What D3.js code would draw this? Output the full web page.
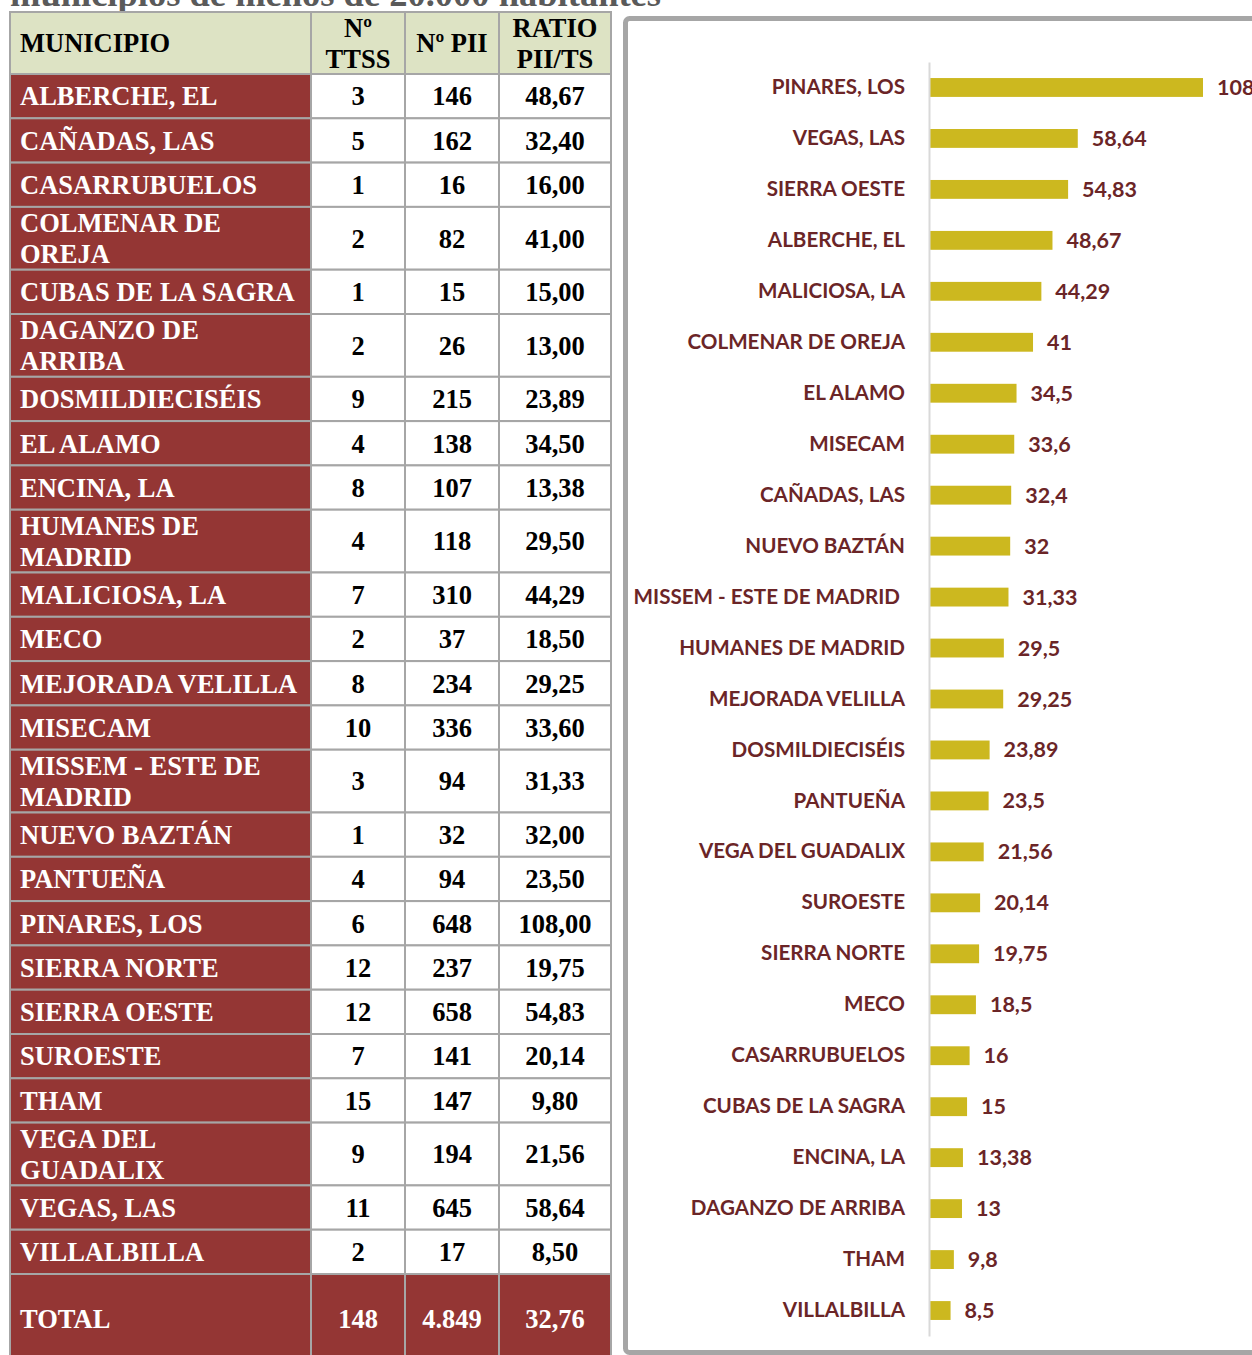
<!DOCTYPE html>
<html>
<head>
<meta charset="utf-8">
<script src="https://cdn.jsdelivr.net/npm/d3@7"></script>
<style>
body { margin: 0; background: #fff; }
svg { display: block; }
.cell { font-family: "Liberation Serif", "Times New Roman", serif; font-weight: bold; font-size: 26.5px; }
.bar-label { font-family: Lato, sans-serif; font-weight: bold; font-size: 20.6px; fill: #6b2527; white-space: pre; }
.value-label { font-family: Lato, sans-serif; font-weight: bold; font-size: 21.5px; fill: #6b2527; }
</style>
</head>
<body>
<svg id="chart" width="1252" height="1355"></svg>
<script>
// table data
const headers = [["MUNICIPIO"], ["Nº", "TTSS"], ["Nº PII"], ["RATIO", "PII/TS"]];
const municipios = ["ALBERCHE, EL", "CAÑADAS, LAS", "CASARRUBUELOS", "COLMENAR DE OREJA",
    "CUBAS DE LA SAGRA", "DAGANZO DE ARRIBA", "DOSMILDIECISÉIS", "EL ALAMO", "ENCINA, LA",
    "HUMANES DE MADRID", "MALICIOSA, LA", "MECO", "MEJORADA VELILLA", "MISECAM",
    "MISSEM - ESTE DE MADRID", "NUEVO BAZTÁN", "PANTUEÑA", "PINARES, LOS", "SIERRA NORTE",
    "SIERRA OESTE", "SUROESTE", "THAM", "VEGA DEL GUADALIX", "VEGAS, LAS", "VILLALBILLA"];
const ttss = [3, 5, 1, 2, 1, 2, 9, 4, 8, 4, 7, 2, 8, 10, 3, 1, 4, 6, 12, 12, 7, 15, 9, 11, 2];
const pii = [146, 162, 16, 82, 15, 26, 215, 138, 107, 118, 310, 37, 234, 336, 94, 32, 94, 648, 237, 658, 141, 147, 194, 645, 17];
const ratio = [48.67, 32.40, 16.00, 41.00, 15.00, 13.00, 23.89, 34.50, 13.38, 29.50, 44.29, 18.50, 29.25, 33.60,
    31.33, 32.00, 23.50, 108.00, 19.75, 54.83, 20.14, 9.80, 21.56, 58.64, 8.50];
const total = ["TOTAL", 148, 4849, 32.76];

// chart data (sorted as in the excel chart)
const chartCategories = ["PINARES, LOS", "VEGAS, LAS", "SIERRA OESTE", "ALBERCHE, EL", "MALICIOSA, LA",
    "COLMENAR DE OREJA", "EL ALAMO", "MISECAM", "CAÑADAS, LAS", "NUEVO BAZTÁN", "MISSEM - ESTE DE MADRID ",
    "HUMANES DE MADRID", "MEJORADA VELILLA", "DOSMILDIECISÉIS", "PANTUEÑA", "VEGA DEL GUADALIX",
    "SUROESTE", "SIERRA NORTE", "MECO", "CASARRUBUELOS", "CUBAS DE LA SAGRA", "ENCINA, LA",
    "DAGANZO DE ARRIBA", "THAM", "VILLALBILLA"];
const chartValues = [108, 58.64, 54.83, 48.67, 44.29, 41, 34.5, 33.6, 32.4, 32, 31.33, 29.5, 29.25,
    23.89, 23.5, 21.56, 20.14, 19.75, 18.5, 16, 15, 13.38, 13, 9.8, 8.5];

const es = d3.formatLocale({decimal: ",", thousands: ".", grouping: [3], currency: ["", "€"]});
const fmt2 = es.format(".2f");
const fmtInt = es.format(",d");
const fmtShort = es.format("~g");

const svg = d3.select("#chart");

const red = "#943634";
const headFill = "#dde3c4";
const gridColor = "#a6a6a6";

// title, mostly cut off at the top
svg.append("text")
    .attr("x", 10)
    .attr("y", 6)
    .attr("font-family", "Liberation Serif, serif")
    .attr("font-weight", "bold")
    .attr("font-size", 36.5)
    .attr("fill", "#5a5a5a")
    .text("municipios de menos de 20.000 habitantes");

// ---------- table ----------
const colEdges = [10, 311, 405, 499, 611];
const textPad = 10;
const maxNameWidth = 281;

function splitLines(str) {
    let probe = svg.append("text").attr("class", "cell");
    let words = str.split(/\s+/), lines = [], cur = [];
    words.forEach(w => {
        cur.push(w);
        probe.text(cur.join(" "));
        if (probe.node().getComputedTextLength() > maxNameWidth && cur.length > 1) {
            cur.pop();
            lines.push(cur.join(" "));
            cur = [w];
        }
    });
    lines.push(cur.join(" "));
    probe.remove();
    return lines;
}

let rows = [];
let y0 = 12;
rows.push({cells: headers, h: 62, head: true, y: y0});
y0 += 62;
municipios.forEach((m, i) => {
    let lines = splitLines(m);
    let h = lines.length > 1 ? 62.8 : 44.3;
    rows.push({cells: [lines, [String(ttss[i])], [fmtInt(pii[i])], [fmt2(ratio[i])]], h: h, y: y0});
    y0 += h;
});
rows.push({cells: [[total[0]], [String(total[1])], [fmtInt(total[2])], [fmt2(total[3])]], h: 90, y: y0, total: true});

const table = svg.append("g");
const lineGap = 31;

rows.forEach(r => {
    r.cells.forEach((lines, c) => {
        let x = colEdges[c], w = colEdges[c + 1] - colEdges[c];
        let fill = r.head ? headFill : (r.total || c == 0 ? red : "#fff");
        let color = r.head ? "#000" : (r.total || c == 0 ? "#fff" : "#000");
        table.append("rect")
            .attr("x", x).attr("y", r.y)
            .attr("width", w).attr("height", r.h)
            .attr("fill", fill)
            .attr("stroke", gridColor)
            .attr("stroke-width", 2);
        let cy = r.y + r.h / 2;
        lines.forEach((t, k) => {
            let ly = cy + (k - (lines.length - 1) / 2) * lineGap;
            table.append("text")
                .attr("class", "cell")
                .attr("x", c == 0 ? x + textPad : x + w / 2)
                .attr("y", ly)
                .attr("dy", "0.35em")
                .attr("text-anchor", c == 0 ? "start" : "middle")
                .attr("fill", color)
                .text(t);
        });
    });
});

// ---------- bar chart ----------
svg.append("rect")
    .attr("x", 625.5).attr("y", 18.5)
    .attr("width", 700).attr("height", 1334)
    .attr("rx", 4)
    .attr("fill", "#fff")
    .attr("stroke", gridColor)
    .attr("stroke-width", 5);

const y = d3.scaleBand()
    .domain(chartCategories)
    .range([62, 1336])
    .paddingInner(0.63)
    .paddingOuter(0.315);

const x = d3.scaleLinear()
    .domain([0, 108])
    .range([929, 1203]);

svg.append("g")
    .selectAll("rect")
    .data(chartValues)
    .enter()
    .append("rect")
    .attr("x", x(0))
    .attr("y", (d, i) => y(chartCategories[i]))
    .attr("width", d => x(d) - x(0))
    .attr("height", y.bandwidth())
    .attr("fill", "#ccb81f");

const axis = svg.append("g")
    .attr("transform", `translate(${x(0)},0)`)
    .call(d3.axisLeft(y).tickSize(0).tickSizeOuter(0).tickPadding(24));
axis.select(".domain").attr("stroke", "#d9d9d9").attr("stroke-width", 2);
axis.selectAll("text")
    .attr("class", "bar-label")
    .attr("font-size", null)
    .attr("font-family", null);

svg.append("g")
    .selectAll("text")
    .data(chartValues)
    .enter()
    .append("text")
    .attr("class", "value-label")
    .attr("x", d => x(d) + 14)
    .attr("y", (d, i) => y(chartCategories[i]) + y.bandwidth() / 2)
    .attr("dy", "0.35em")
    .text(d => fmtShort(d));
</script>
</body>
</html>
